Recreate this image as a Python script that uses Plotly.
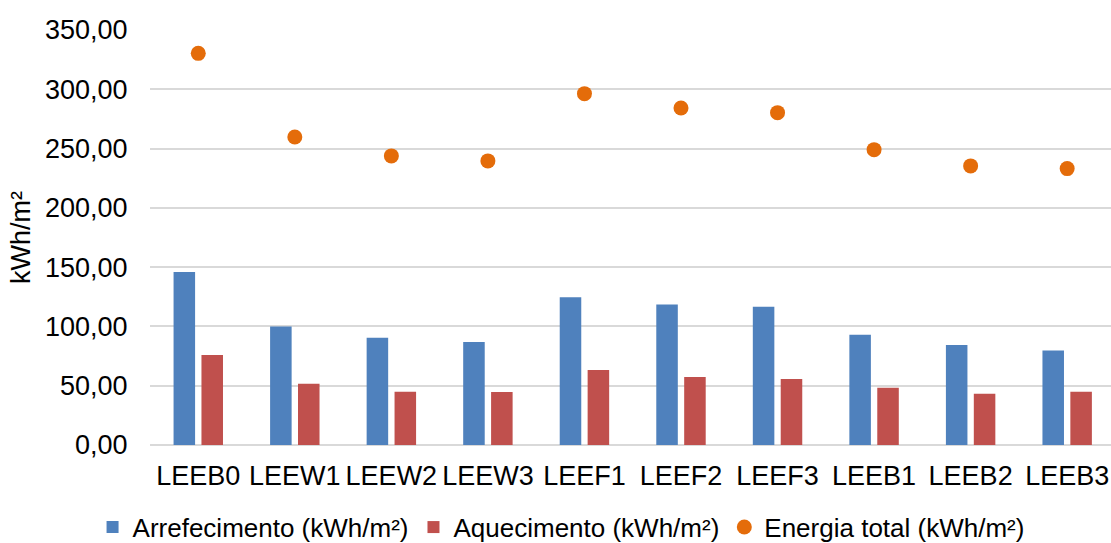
import plotly.graph_objects as go

categories = ["LEEB0", "LEEW1", "LEEW2", "LEEW3", "LEEF1", "LEEF2", "LEEF3", "LEEB1", "LEEB2", "LEEB3"]
arrefecimento = [146.0, 100.0, 90.4, 86.8, 124.7, 118.5, 116.5, 92.9, 84.3, 79.7]
aquecimento = [75.8, 51.7, 44.9, 44.7, 63.2, 57.3, 55.6, 48.3, 43.2, 44.9]
energia_total = [330.3, 259.8, 243.8, 239.6, 296.3, 284.2, 280.3, 249.1, 235.4, 233.1]

FONT = "Liberation Sans, Arial, sans-serif"
FS = 27

fig = go.Figure()
fig.add_trace(go.Bar(
    x=categories, y=arrefecimento, name="Arrefecimento (kWh/m²)",
    marker=dict(color="#4F81BD", line=dict(width=0)),
    width=0.223, offset=-0.256,
))
fig.add_trace(go.Bar(
    x=categories, y=aquecimento, name="Aquecimento (kWh/m²)",
    marker=dict(color="#C0504D", line=dict(width=0)),
    width=0.223, offset=0.033,
))
fig.add_trace(go.Scatter(
    x=categories, y=energia_total, name="Energia total (kWh/m²)",
    mode="markers", marker=dict(color="#E46C0A", size=15, line=dict(width=0)),
))

fig.update_layout(
    width=1111, height=543,
    margin=dict(l=150, r=0, t=30, b=98, autoexpand=False),
    paper_bgcolor="white", plot_bgcolor="white",
    separators=", ",
    font=dict(family=FONT, size=FS, color="#000000"),
    barmode="overlay",
    showlegend=True,
    legend=dict(
        orientation="h", xref="container", x=0.505, xanchor="center",
        y=-0.198, yanchor="middle",
        font=dict(size=26), itemwidth=30, tracegroupgap=0,
    ),
    xaxis=dict(
        automargin=False,
        showgrid=False, showline=False,
        ticks="outside", ticklen=7, tickcolor="rgba(0,0,0,0)",
        tickfont=dict(size=FS),
        range=[-0.5, 9.454],
    ),
    yaxis=dict(
        automargin=False,
        range=[0, 350], dtick=50, tickformat=".2f",
        showgrid=True, gridcolor="#D9D9D9", gridwidth=1.5,
        zeroline=True, zerolinecolor="#D9D9D9", zerolinewidth=1.5,
        showline=False,
        ticks="outside", ticklen=16, tickcolor="rgba(0,0,0,0)",
        tickfont=dict(size=FS),
        title=dict(text="kWh/m²", font=dict(size=FS), standoff=6),
    ),
)

fig.write_html("out.html")
